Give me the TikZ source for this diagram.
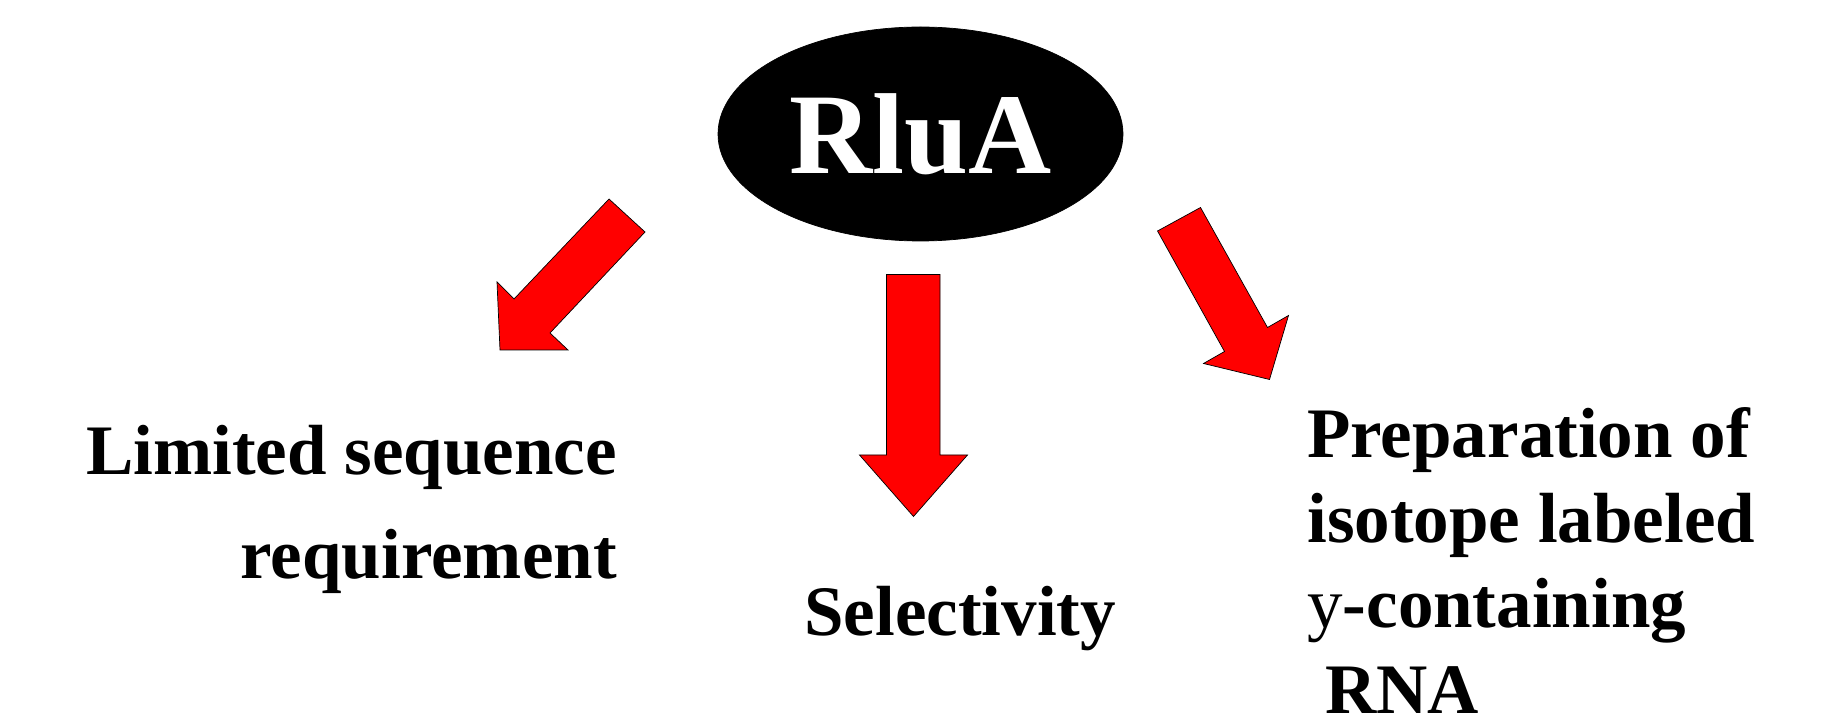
\documentclass[tikz,border=0pt]{standalone}
\usepackage{fontspec}
\setmainfont{Liberation Serif}
\usetikzlibrary{shapes.geometric}

\begin{document}
\begin{tikzpicture}[
	blockarrow/.style={fill=red, draw=black, line width=0.4pt, line join=miter},
	bigtext/.style={inner sep=0pt, font=\bfseries\fontsize{40.4}{59.2}\selectfont}
]
	 \useasboundingbox (0,0) rectangle (36.54,14.4);
	 %
	 \node (rlua) at (18.41,11.72) [ellipse, fill=black, draw=black, minimum width=8.1cm, minimum height=4.28cm, inner sep=0pt, text depth=0.1em, text=white, font=\bfseries\fontsize{65.5}{70}\selectfont] {RluA};
	 %
	 \node (limited) at (12.34,2.82) [bigtext, anchor=base east, align=right] {Limited sequence\\requirement};
	 %
	 \node (select) at (16.08,1.7) [bigtext, anchor=base west] {Selectivity};
	 %
	 \node (prep) at (26.14,0.14) [bigtext, anchor=base west, align=left, font=\bfseries\fontsize{40.4}{48.4}\selectfont] {Preparation of\\isotope labeled\\{\mdseries y}-containing\\\hspace*{0.25em}RNA};
	 %
	 %RluA-Limited
	 \draw[blockarrow] (12.18,10.42) -- (12.90,9.76) -- (11.00,7.74) -- (11.36,7.40) -- (10.00,7.40) -- (9.94,8.76) -- (10.28,8.42) -- cycle;
	 %
	 %RluA-Selectivity
	 \draw[blockarrow] (17.73,8.91) -- (18.80,8.91) -- (18.80,5.30) -- (19.35,5.30) -- (18.27,4.07) -- (17.19,5.30) -- (17.73,5.30) -- cycle;
	 %
	 %RluA-Preparation
	 \draw[blockarrow] (23.15,9.78) -- (24.01,10.25) -- (25.35,7.85) -- (25.77,8.09) -- (25.39,6.81) -- (24.07,7.13) -- (24.49,7.37) -- cycle;
\end{tikzpicture}
\end{document}
